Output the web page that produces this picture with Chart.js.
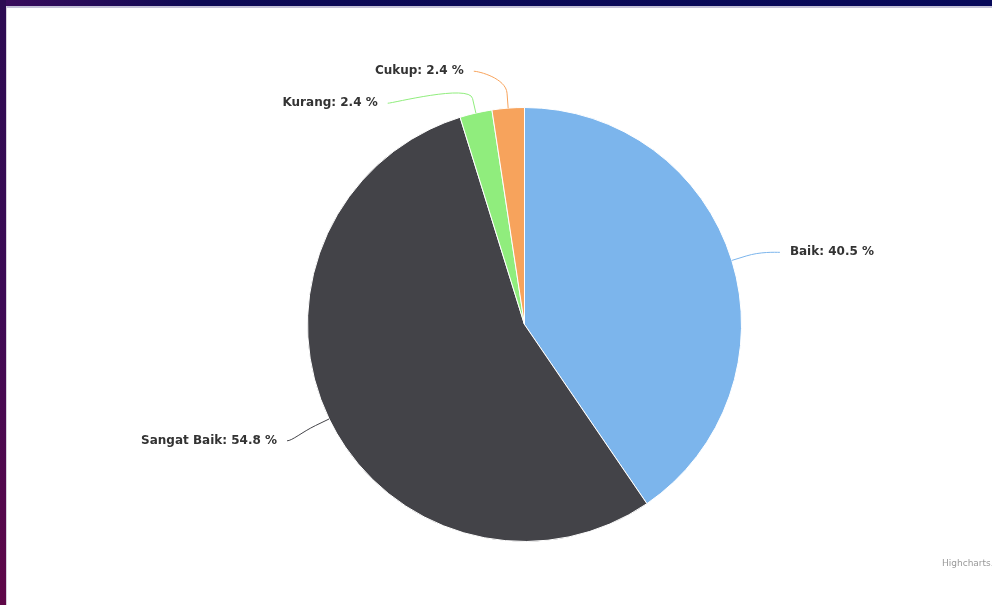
<!DOCTYPE html>
<html>
<head>
<meta charset="utf-8">
<style>
html,body{margin:0;padding:0;background:#fff;width:992px;height:605px;overflow:hidden;}
#wrap{position:relative;width:992px;height:605px;background:#fff;}
canvas{position:absolute;left:0;top:0;}
#top{position:absolute;left:0;top:0;width:992px;height:6px;background:linear-gradient(to right,#3a0c5c,#0d0a55 20%,#07095a);}
#topline{position:absolute;left:5px;top:6px;width:987px;height:2px;background:#c4c2d8;}
#left{position:absolute;left:0;top:0;width:6px;height:605px;background:linear-gradient(to bottom,#2c0b52,#3d0a55 50%,#5f0748);}
#leftline{position:absolute;left:6px;top:6px;width:1px;height:599px;background:#d6d0dc;}
</style>
<script src="https://cdn.jsdelivr.net/npm/chart.js"></script>
</head>
<body>
<div id="wrap">
<canvas id="c" width="992" height="605"></canvas>
<div id="top"></div><div id="topline"></div><div id="left"></div><div id="leftline"></div>
</div>
<script>
const categories = ['Baik', 'Sangat Baik', 'Kurang', 'Cukup'];
const percentValues = [40.5, 54.8, 2.4, 2.4];
const sliceColors = ['#7cb5ec', '#434348', '#90ed7d', '#f7a35c'];
const creditText = 'Highcharts.com';

const LABEL_RY = 41;   // vertical label distance beyond the rim
const LABEL_RX = 49;   // horizontal label distance beyond the rim
const LABEL_SHIFT = 4;
const SPACING = 32;
const TOP_ROOM = 36;

const labelPlugin = {
  id: 'pieLabels',
  afterDatasetsDraw(chart) {
    const ctx = chart.ctx;
    const meta = chart.getDatasetMeta(0);
    const items = [];
    meta.data.forEach((arc, i) => {
      const p = arc.getProps(['x', 'y', 'startAngle', 'endAngle', 'outerRadius'], true);
      const mid = (p.startAngle + p.endAngle) / 2;
      items.push({
        i, cx: p.x, cy: p.y, r: p.outerRadius, mid,
        left: Math.cos(mid) < 0,
        y: p.y + (p.outerRadius + LABEL_RY) * Math.sin(mid) + LABEL_SHIFT
      });
    });
    [true, false].forEach(side => {
      const s = items.filter(o => o.left === side).sort((a, b) => a.y - b.y);
      let prev = -Infinity;
      s.forEach((o, k) => {
        let y = Math.max(o.y, chart.chartArea.top - TOP_ROOM);
        if (k > 0) y = Math.max(y, prev + SPACING);
        o.y = y; prev = y;
      });
    });
    ctx.save();
    items.forEach(o => {
      const Rx = o.r + LABEL_RX, Ry = o.r + LABEL_RY;
      const dy = Math.max(-1, Math.min(1, (o.y - o.cy) / Ry));
      const dx = Rx * Math.sqrt(1 - dy * dy);
      const ax = o.cx + (o.left ? -dx : dx);
      const touch = {x: o.cx + o.r * Math.cos(o.mid), y: o.cy + o.r * Math.sin(o.mid)};
      const brk = {x: o.cx + (o.r + 15) * Math.cos(o.mid), y: o.cy + (o.r + 15) * Math.sin(o.mid)};
      ctx.beginPath();
      ctx.strokeStyle = sliceColors[o.i];
      ctx.lineWidth = 1;
      ctx.moveTo(ax, o.y);
      ctx.bezierCurveTo(ax + (o.left ? 5 : -5), o.y, 2 * brk.x - touch.x, 2 * brk.y - touch.y, brk.x, brk.y);
      ctx.lineTo(touch.x, touch.y);
      ctx.stroke();
      const text = categories[o.i] + ': ' + percentValues[o.i] + ' %';
      ctx.font = 'bold 12px "DejaVu Sans"';
      ctx.textBaseline = 'middle';
      ctx.textAlign = o.left ? 'right' : 'left';
      const tx = ax + (o.left ? -10 : 10);
      ctx.lineWidth = 2;
      ctx.strokeStyle = '#ffffff';
      ctx.lineJoin = 'round';
      ctx.strokeText(text, tx, o.y);
      ctx.fillStyle = '#333333';
      ctx.fillText(text, tx, o.y);
    });
    ctx.font = '9px "DejaVu Sans"';
    ctx.fillStyle = '#999999';
    ctx.textAlign = 'left';
    ctx.textBaseline = 'middle';
    ctx.fillText(creditText, chart.width - 50, chart.height - 41);
    ctx.restore();
  }
};

new Chart(document.getElementById('c'), {
  type: 'pie',
  data: {
    labels: categories,
    datasets: [{
      data: percentValues,
      backgroundColor: sliceColors,
      borderColor: '#ffffff',
      borderWidth: 1,
      hoverBorderWidth: 1,
      hoverOffset: 0
    }]
  },
  options: {
    responsive: false,
    animation: false,
    events: [],
    layout: {padding: {top: 107, bottom: 63, left: 307, right: 250}},
    plugins: {legend: {display: false}, tooltip: {enabled: false}, title: {display: false}}
  },
  plugins: [labelPlugin]
});
</script>
</body>
</html>
